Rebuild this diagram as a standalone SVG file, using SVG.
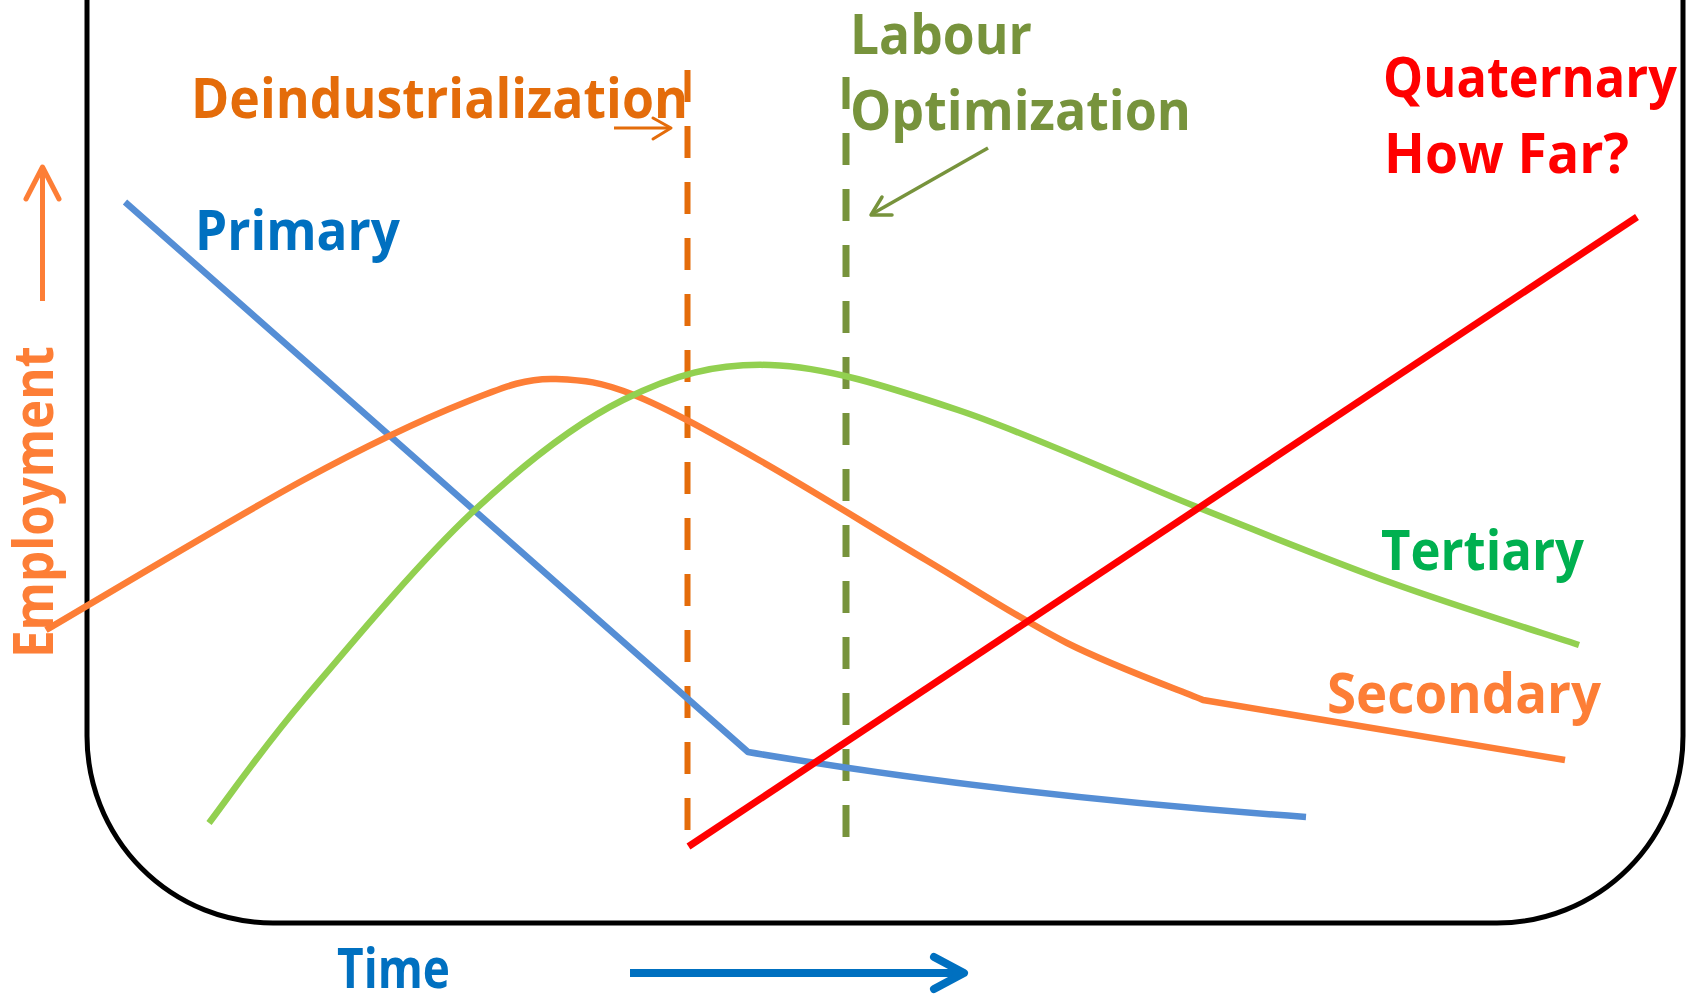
<svg xmlns="http://www.w3.org/2000/svg" width="1698" height="994" viewBox="0 0 1698 994">
<style>
text{font-family:"Open Sans",Lato,"Liberation Sans",sans-serif;font-weight:bold;font-size:55px;font-variant-ligatures:none}
.ln{fill:none;stroke-linejoin:round}
.ah{fill:none;stroke-linecap:round;stroke-linejoin:round}
</style>
<rect width="1698" height="994" fill="#ffffff"/>
<g id="frame">
<path d="M87,-10 L87,736 A186,187 0 0 0 273,923 L1497,923 A186,187 0 0 0 1683,736 L1683,-10" fill="none" stroke="#000" stroke-width="5"/>
</g>
<g id="connectors">
<line x1="687.5" y1="70" x2="687.5" y2="830" stroke="#E46C0A" stroke-width="6" stroke-dasharray="32 24"/>
<line x1="846" y1="77" x2="846" y2="837" stroke="#77933C" stroke-width="7" stroke-dasharray="32 24"/>
<path class="ln" d="M125,202 L748,752 Q1000,795 1306,817" stroke="#558ED5" stroke-width="6.5"/>
<path class="ln" d="M46,630 C88.9,605 233.5,518 303.5,480 C373.5,442 423.9,418.8 466,402 C508.1,385.2 528,377.8 556,379 C584,380.2 600.2,381.5 634,395 C667.8,408.5 710.3,432.5 759,460 C807.7,487.5 874.7,529.5 926,560 C977.3,590.5 1020.8,619.7 1067,643 C1113.2,666.3 1180.3,690.5 1203,700 L1565,760" stroke="#FD7E36" stroke-width="6.5"/>
<path class="ln" d="M209,823 C224.75,802.5 259.75,751.67 303.5,700 C347.25,648.33 418.25,563 471.5,513 C524.75,463 573.25,424.67 623,400 C672.75,375.33 714.17,363.33 770,365 C825.83,366.67 886.83,386.33 958,410 C1029.17,433.67 1124.67,478.17 1197,507 C1269.33,535.83 1328.33,560 1392,583 C1455.67,606 1547.83,634.67 1579,645" stroke="#92D050" stroke-width="6.5"/>
<line x1="688.5" y1="846.5" x2="1637" y2="217" stroke="#FF0000" stroke-width="7"/>
<g id="employment-arrow" stroke="#FD7E36" stroke-width="5">
<line x1="42.5" y1="301" x2="42.5" y2="168"/>
<polyline class="ah" points="26,199 42.5,167 59,199"/>
</g>
<g id="time-arrow" stroke="#0070C0" stroke-width="8">
<line x1="630" y1="973" x2="962" y2="973"/>
<polyline class="ah" points="934,957 964,973 934,989"/>
</g>
<g id="deind-arrow" stroke="#E46C0A" stroke-width="3">
<line x1="614" y1="128" x2="670" y2="128"/>
<polyline class="ah" points="653,118 671,128 653,139"/>
</g>
<g id="labour-arrow" stroke="#77933C" stroke-width="3.5">
<line x1="988" y1="148" x2="872" y2="214"/>
<polyline class="ah" points="882,197 871,215 892,215"/>
</g>
</g>
<g id="label-deindustrialization"><text x="191" y="118" fill="#E46C0A" textLength="497" lengthAdjust="spacingAndGlyphs">Deindustrialization</text></g>
<g id="label-labour"><text x="850" y="54" fill="#77933C" textLength="182" lengthAdjust="spacingAndGlyphs">Labour</text><text x="850" y="130" fill="#77933C" textLength="341" lengthAdjust="spacingAndGlyphs">Optimization</text></g>
<g id="label-quaternary"><text x="1383" y="97" fill="#FF0000" textLength="294" lengthAdjust="spacingAndGlyphs">Quaternary</text><text x="1384" y="173" fill="#FF0000" textLength="245" lengthAdjust="spacingAndGlyphs">How Far?</text></g>
<g id="label-primary"><text x="195" y="250" fill="#0070C0" textLength="205" lengthAdjust="spacingAndGlyphs">Primary</text></g>
<g id="label-tertiary"><text x="1381" y="570" fill="#00B050" textLength="203" lengthAdjust="spacingAndGlyphs">Tertiary</text></g>
<g id="label-secondary"><text x="1327" y="713" fill="#FD7E36" textLength="274" lengthAdjust="spacingAndGlyphs">Secondary</text></g>
<g id="label-time"><text x="337" y="988" fill="#0070C0" textLength="113" lengthAdjust="spacingAndGlyphs">Time</text></g>
<g id="label-employment"><text transform="translate(52.5,658) rotate(-90)" x="0" y="0" fill="#FD7E36" textLength="312" lengthAdjust="spacingAndGlyphs">Employment</text></g>
</svg>
